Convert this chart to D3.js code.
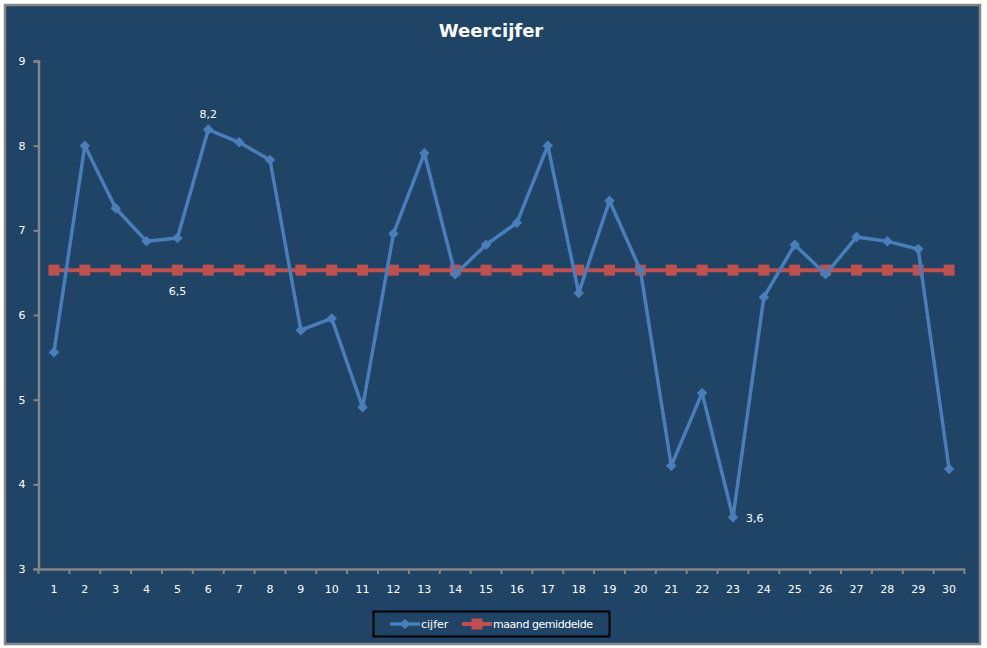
<!DOCTYPE html>
<html>
<head>
<meta charset="utf-8">
<script src="https://cdn.jsdelivr.net/npm/d3@7"></script>
<style>
  body { margin: 0; background: #fff; }
  svg { display: block; font-family: "DejaVu Sans", Verdana, sans-serif; }
</style>
</head>
<body>
<svg id="chart" width="987" height="648"></svg>
<script>
// data
const days = d3.range(1, 31);
const cijfer = [5.56, 8.0, 7.26, 6.87, 6.91, 8.19, 8.04, 7.83, 5.82, 5.96,
  4.91, 6.96, 7.91, 6.48, 6.83, 7.09, 8.0, 6.26, 7.35, 6.53,
  4.22, 5.08, 3.61, 6.21, 6.83, 6.48, 6.92, 6.87, 6.78, 4.18];
const gemiddelde = [6.53, 6.53, 6.53, 6.53, 6.53, 6.53, 6.53, 6.53, 6.53, 6.53,
  6.53, 6.53, 6.53, 6.53, 6.53, 6.53, 6.53, 6.53, 6.53, 6.53,
  6.53, 6.53, 6.53, 6.53, 6.53, 6.53, 6.53, 6.53, 6.53, 6.53];
const yTicks = [3, 4, 5, 6, 7, 8, 9];
// labelled points: [series, day index, text, placement]
const labels = [
  ["cijfer", 5, "8,2", "above"],
  ["gem", 4, "6,5", "below"],
  ["cijfer", 22, "3,6", "right"],
];

const BG = "#1f4466";
const BLUE = "#4a7ebb";
const RED = "#c0504d";
const AXIS = "#868686";

const MARGIN = { LEFT: 38.5, RIGHT: 964.5, TOP: 61, BOTTOM: 569 };

let svg = d3.select("#chart");

// chart background and frame
svg.append("rect")
  .attr("x", 5).attr("y", 5).attr("width", 975).attr("height", 639)
  .attr("fill", BG)
  .attr("stroke", AXIS)
  .attr("stroke-width", 2.5);

svg.append("text")
  .attr("x", 491).attr("y", 37)
  .attr("text-anchor", "middle")
  .attr("fill", "#fff")
  .attr("font-size", 18)
  .attr("font-weight", "bold")
  .text("Weercijfer");

let xScale = d3.scaleBand()
  .domain(days)
  .range([MARGIN.LEFT, MARGIN.RIGHT]);

let yScale = d3.scaleLinear()
  .domain([3, 9])
  .range([MARGIN.BOTTOM, MARGIN.TOP]);

let cx = (d) => xScale(d) + xScale.bandwidth() / 2;

// y axis
let yAxis = svg.append("g")
  .attr("transform", "translate(" + MARGIN.LEFT + ",0)")
  .call(d3.axisLeft(yScale).tickValues(yTicks).tickSize(5).tickPadding(8).tickFormat(d3.format("d")));

// x axis, ticks between categories
let xAxis = svg.append("g")
  .attr("transform", "translate(0," + MARGIN.BOTTOM + ")")
  .call(d3.axisBottom(xScale).tickSize(0).tickPadding(16));

xAxis.selectAll(".boundary")
  .data(d3.range(0, 31))
  .enter()
  .append("line")
  .attr("x1", (i) => MARGIN.LEFT + i * xScale.step())
  .attr("x2", (i) => MARGIN.LEFT + i * xScale.step())
  .attr("y1", 0).attr("y2", 5)
  .attr("stroke", AXIS)
  .attr("stroke-width", 2);

[yAxis, xAxis].forEach((ax) => {
  ax.select(".domain").attr("stroke", AXIS).attr("stroke-width", 2.5);
  ax.selectAll(".tick line").attr("stroke", AXIS).attr("stroke-width", 2);
  ax.selectAll(".tick text")
    .attr("fill", "#fff")
    .attr("font-size", 11)
    .attr("font-family", "DejaVu Sans, Verdana, sans-serif");
});

let line = (vals) => d3.line()
  .x((d, i) => cx(days[i]))
  .y((d) => yScale(d))(vals);

// average line
svg.append("path")
  .attr("d", line(gemiddelde))
  .attr("fill", "none")
  .attr("stroke", RED)
  .attr("stroke-width", 4);

svg.append("g").selectAll("rect")
  .data(gemiddelde)
  .enter()
  .append("rect")
  .attr("x", (d, i) => cx(days[i]) - 5.5)
  .attr("y", (d) => yScale(d) - 5.5)
  .attr("width", 11).attr("height", 11)
  .attr("fill", RED);

// daily grade line
svg.append("path")
  .attr("d", line(cijfer))
  .attr("fill", "none")
  .attr("stroke", BLUE)
  .attr("stroke-width", 3.5)
  .attr("stroke-linejoin", "round");

let diamond = d3.symbol().type(d3.symbolDiamond2).size(70);

svg.append("g").selectAll("path")
  .data(cijfer)
  .enter()
  .append("path")
  .attr("d", diamond)
  .attr("transform", (d, i) => "translate(" + cx(days[i]) + "," + yScale(d) + ")")
  .attr("fill", BLUE);

// data labels
labels.forEach(([series, i, txt, pos]) => {
  let v = series === "cijfer" ? cijfer[i] : gemiddelde[i];
  let x = cx(days[i]), y = yScale(v);
  let t = svg.append("text")
    .attr("fill", "#fff")
    .attr("font-size", 11)
    .text(txt);
  if (pos === "above") t.attr("x", x).attr("y", y - 12).attr("text-anchor", "middle");
  if (pos === "below") t.attr("x", x).attr("y", y + 25).attr("text-anchor", "middle");
  if (pos === "right") t.attr("x", x + 13).attr("y", y + 5);
});

// legend
let legend = svg.append("g");
legend.append("rect")
  .attr("x", 373.5).attr("y", 611.5).attr("width", 236).attr("height", 25)
  .attr("fill", "none")
  .attr("stroke", "#000")
  .attr("stroke-width", 2);

legend.append("line")
  .attr("x1", 390).attr("x2", 420).attr("y1", 624).attr("y2", 624)
  .attr("stroke", BLUE).attr("stroke-width", 3.5);
legend.append("path")
  .attr("d", diamond)
  .attr("transform", "translate(405,624)")
  .attr("fill", BLUE);
legend.append("text")
  .attr("x", 421).attr("y", 628)
  .attr("fill", "#fff").attr("font-size", 11)
  .text("cijfer");

legend.append("line")
  .attr("x1", 462).attr("x2", 492).attr("y1", 624).attr("y2", 624)
  .attr("stroke", RED).attr("stroke-width", 4);
legend.append("rect")
  .attr("x", 471.5).attr("y", 618.5).attr("width", 11).attr("height", 11)
  .attr("fill", RED);
legend.append("text")
  .attr("x", 493).attr("y", 628)
  .attr("fill", "#fff").attr("font-size", 11)
  .attr("textLength", 100)
  .text("maand gemiddelde");
</script>
</body>
</html>
